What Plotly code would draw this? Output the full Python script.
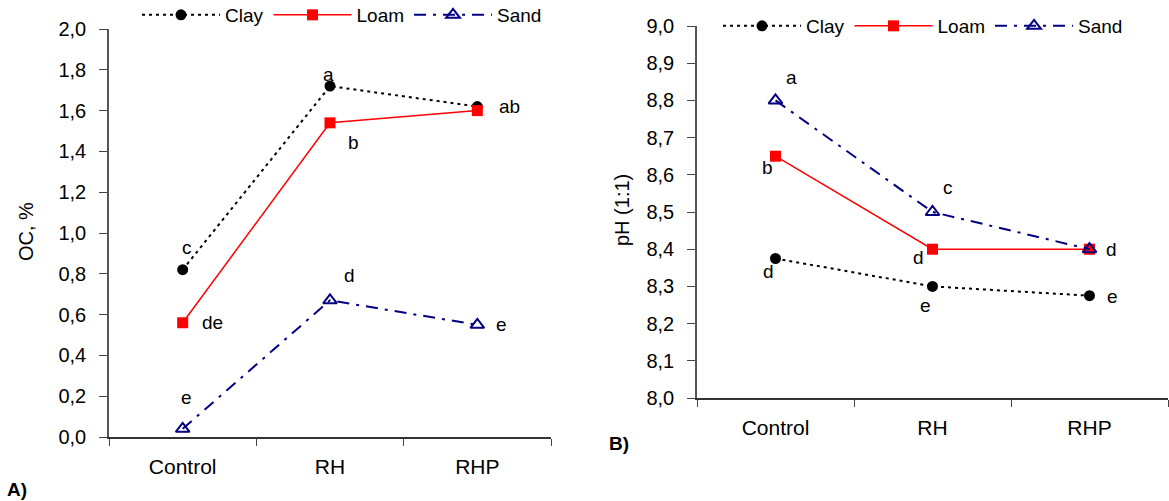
import plotly.graph_objects as go

categories = ["Control", "RH", "RHP"]
series_names = ["Clay", "Loam", "Sand"]

# Panel A: OC, %
oc_clay = [0.82, 1.72, 1.62]
oc_loam = [0.56, 1.54, 1.60]
oc_sand = [0.04, 0.67, 0.55]
oc_letters_clay = ["c", "a", "ab"]
oc_letters_loam = ["de", "b", ""]
oc_letters_sand = ["e", "d", "e"]

# Panel B: pH (1:1)
ph_clay = [8.375, 8.30, 8.275]
ph_loam = [8.65, 8.40, 8.40]
ph_sand = [8.80, 8.50, 8.40]
ph_letters_clay = ["d", "e", "e"]
ph_letters_loam = ["b", "d", ""]
ph_letters_sand = ["a", "c", "d"]

oc_ticks = [0.0, 0.2, 0.4, 0.6, 0.8, 1.0, 1.2, 1.4, 1.6, 1.8, 2.0]
ph_ticks = [8.0, 8.1, 8.2, 8.3, 8.4, 8.5, 8.6, 8.7, 8.8, 8.9, 9.0]

FONT = "Liberation Sans, Arial, sans-serif"
styles = {
    "Clay": dict(line=dict(color="black", width=2, dash="3px,4px"),
                 marker=dict(symbol="circle", size=11, color="black")),
    "Loam": dict(line=dict(color="#ff0000", width=1.5, dash="solid"),
                 marker=dict(symbol="square", size=11, color="#ff0000")),
    "Sand": dict(line=dict(color="#000080", width=2, dash="12px,7px,3px,7px"),
                 marker=dict(symbol="triangle-up-open", size=12, color="#000080",
                             line=dict(width=2, color="#000080"))),
}

fig = go.Figure()

oc_data = {"Clay": oc_clay, "Loam": oc_loam, "Sand": oc_sand}
ph_data = {"Clay": ph_clay, "Loam": ph_loam, "Sand": ph_sand}

for name in series_names:
    fig.add_trace(go.Scatter(x=categories, y=oc_data[name], name=name, mode="lines+markers",
                             xaxis="x", yaxis="y", legend="legend", cliponaxis=False,
                             **styles[name]))
for name in series_names:
    fig.add_trace(go.Scatter(x=categories, y=ph_data[name], name=name, mode="lines+markers",
                             xaxis="x2", yaxis="y2", legend="legend2", cliponaxis=False,
                             **styles[name]))

# letter offsets (pixels): (dx, dy) with dy positive = up
oc_off = {
    "Clay": [(4, 22), (-2, 12), (32, 0)],
    "Loam": [(30, 0), (23, -20), (0, 0)],
    "Sand": [(4, 31), (19, 25), (24, 0)],
}
ph_off = {
    "Clay": [(-7, -13), (-7, -19), (23, -1)],
    "Loam": [(-8, -11), (-14, -8), (0, 0)],
    "Sand": [(16, 23), (15, 25), (22, 0)],
}
oc_letters = {"Clay": oc_letters_clay, "Loam": oc_letters_loam, "Sand": oc_letters_sand}
ph_letters = {"Clay": ph_letters_clay, "Loam": ph_letters_loam, "Sand": ph_letters_sand}

annotations = []
for name in series_names:
    for i, c in enumerate(categories):
        if oc_letters[name][i]:
            dx, dy = oc_off[name][i]
            annotations.append(dict(x=c, y=oc_data[name][i], xref="x", yref="y",
                                    text=oc_letters[name][i], showarrow=False,
                                    xshift=dx, yshift=dy,
                                    font=dict(size=19, color="black", family=FONT)))
        if ph_letters[name][i]:
            dx, dy = ph_off[name][i]
            annotations.append(dict(x=c, y=ph_data[name][i], xref="x2", yref="y2",
                                    text=ph_letters[name][i], showarrow=False,
                                    xshift=dx, yshift=dy,
                                    font=dict(size=19, color="black", family=FONT)))

W, H = 1169, 501
lab = dict(xref="paper", yref="paper", showarrow=False, xanchor="center", yanchor="middle")
annotations += [
    dict(x=26 / W, y=1 - 232 / H, text="OC, %", textangle=-90,
         font=dict(size=20, color="black", family=FONT), **lab),
    dict(x=622 / W, y=1 - 210 / H, text="pH (1:1)", textangle=-90,
         font=dict(size=20, color="black", family=FONT), **lab),
    dict(x=17 / W, y=1 - 489 / H, text="<b>A)</b>",
         font=dict(size=19, color="black", family=FONT), **lab),
    dict(x=619 / W, y=1 - 443 / H, text="<b>B)</b>",
         font=dict(size=19, color="black", family=FONT), **lab),
]

xaxis_common = dict(type="category", range=[-0.5, 2.5], tickson="boundaries",
                    ticks="outside", ticklen=7, tickcolor="#444", showline=True,
                    linecolor="#333", linewidth=1.5, showgrid=False, zeroline=False,
                    tickfont=dict(size=21, color="black", family=FONT),
                    ticklabelstandoff=10)
yaxis_common = dict(ticks="outside", ticklen=8, tickcolor="#444", showline=True,
                    linecolor="#555", linewidth=1.5, showgrid=False, zeroline=False,
                    tickformat=".1f", tickfont=dict(size=20, color="black", family=FONT),
                    ticklabelstandoff=9)

legend_common = dict(orientation="h", xanchor="left", yanchor="top",
                     font=dict(size=19, color="black", family=FONT),
                     bgcolor="rgba(0,0,0,0)", itemwidth=78, tracegroupgap=0)

fig.update_layout(
    width=W, height=H,
    margin=dict(l=0, r=0, t=0, b=0, autoexpand=False),
    paper_bgcolor="white", plot_bgcolor="white",
    separators=",.",
    font=dict(family=FONT, color="black"),
    xaxis=dict(domain=[109 / W, 551 / W], anchor="y", **xaxis_common),
    yaxis=dict(domain=[1 - 437 / H, 1 - 29 / H], anchor="x", range=[0, 2],
               tickvals=oc_ticks, **yaxis_common),
    xaxis2=dict(domain=[697 / W, 1168 / W], anchor="y2", **xaxis_common),
    yaxis2=dict(domain=[1 - 398 / H, 1 - 26 / H], anchor="x2", range=[8, 9],
                tickvals=ph_ticks, **yaxis_common),
    legend=dict(x=137 / W, y=1 + 4 / H, **legend_common),
    legend2=dict(x=718 / W, y=1 - 7 / H, **legend_common),
    annotations=annotations,
    showlegend=True,
)

fig.write_html("out.html")
